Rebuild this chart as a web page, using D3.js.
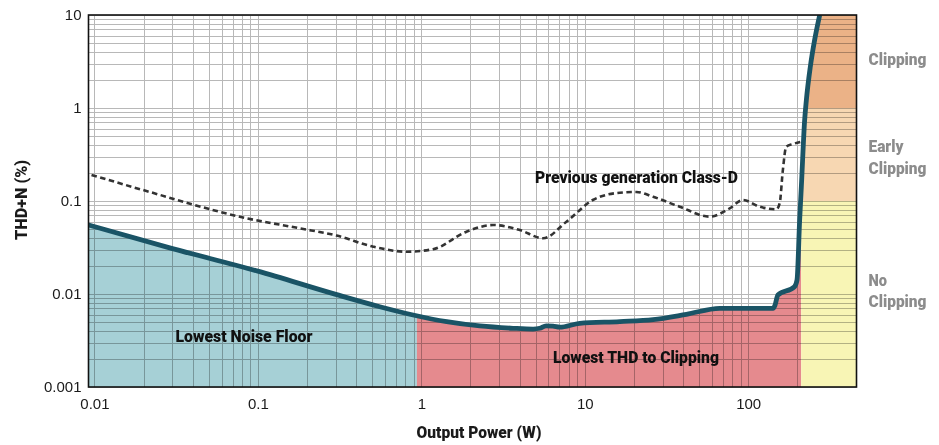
<!DOCTYPE html>
<html>
<head>
<meta charset="utf-8">
<script src="https://cdn.jsdelivr.net/npm/d3@7"></script>
<style>
	body { margin: 0; background: #fff; }
	svg { display: block; }
	.tick text { font-family: 'Liberation Sans', Arial, sans-serif; font-size: 15px; fill: #1a1a1a; }
	.bold { font-family: Roboto, 'DejaVu Sans Condensed', sans-serif; font-weight: 900; font-size: 17px; }
</style>
</head>
<body>
<svg id="chart" width="939" height="445"></svg>
<script>
// new amp: output power (W) vs THD+N (%)
const solidPower = [0.0092, 0.03, 0.1, 0.3, 0.557, 0.891, 1.43, 2.28, 3.64, 4.83, 5.3, 5.8, 6.4, 7.03, 9.31, 16.4, 26.2, 41.9, 67, 142, 146, 152, 192, 199, 206.5, 211.5, 221.6, 227, 240, 255, 274]
const solidThd = [0.0552, 0.0308, 0.0176, 0.0099, 0.0073, 0.00595, 0.00504, 0.00453, 0.00428, 0.0042, 0.00428, 0.00455, 0.00452, 0.0044, 0.00484, 0.00505, 0.0053, 0.00605, 0.00702, 0.00702, 0.0076, 0.00976, 0.01198, 0.01415, 0.0625, 0.1425, 0.743, 1.22, 2.78, 5.38, 10]

// previous generation Class-D (dashed)
const prevPower = [0.0096, 0.0199, 0.0853, 0.181, 0.303, 0.507, 0.812, 1.18, 1.89, 2.75, 4.0, 5.56, 7.73, 11.2, 16.4, 20.7, 26.2, 38.1, 58.2, 77.1, 93, 117.5, 149, 156, 163, 171, 188, 211]
const prevThd = [0.1906, 0.131, 0.0652, 0.0508, 0.0425, 0.0323, 0.0285, 0.0303, 0.0468, 0.0552, 0.0488, 0.0397, 0.0599, 0.1025, 0.1228, 0.125, 0.111, 0.0868, 0.0678, 0.0835, 0.1025, 0.0868, 0.0815, 0.0951, 0.215, 0.384, 0.41, 0.434]

const xTicks = [0.01, 0.1, 1, 10, 100]
const xTickLabels = ['0.01', '0.1', '1', '10', '100']
const yTicks = [0.001, 0.01, 0.1, 1, 10]
const yTickLabels = ['0.001', '0.01', '0.1', '1', '10']

// zone edges in watts and the clipping bands in THD %
const noiseFloorEnd = 0.94
const clipStart = 211
const clipBands = [
	{from: 0.001, to: 0.1, color: '#f8f5b5', label: ['No', 'Clipping']},
	{from: 0.1, to: 1, color: '#f7d7b2', label: ['Early', 'Clipping']},
	{from: 1, to: 10, color: '#ebb287', label: ['Clipping']},
]

const plot = {left: 88.5, right: 856.5, top: 15, bottom: 387}
const svgEl = d3.select('#chart')

const x = d3.scaleLog().domain([0.0092, 460]).range([plot.left, plot.right])
const y = d3.scaleLog().domain([0.001, 10]).range([plot.bottom, plot.top])

const solid = solidPower.map((p, i) => ({p, t: solidThd[i]}))
const prev = prevPower.map((p, i) => ({p, t: prevThd[i]}))

const line = d3
	.line()
	.x(d => x(d.p))
	.y(d => y(d.t))
	.curve(d3.curveMonotoneX)

// condensed bold look: squeeze the glyphs to the width seen in the picture
const textWidths = {
	'Previous generation Class-D': 203,
	'Lowest Noise Floor': 137,
	'Lowest THD to Clipping': 166,
	'Output Power (W)': 125,
	'THD+N (%)': 80,
	'Clipping': 58,
	'Early': 35,
	'No': 18.5,
}

function boldText(parent, str) {
	return parent
		.append('text')
		.attr('class', 'bold')
		.attr('textLength', textWidths[str])
		.attr('lengthAdjust', 'spacingAndGlyphs')
		.text(str)
}

const defs = svgEl.append('defs')
defs.append('clipPath')
	.attr('id', 'plot-clip')
	.append('rect')
	.attr('x', plot.left)
	.attr('y', plot.top)
	.attr('width', plot.right - plot.left)
	.attr('height', plot.bottom - plot.top)

// everything under / right of the new curve
defs.append('clipPath')
	.attr('id', 'under-clip')
	.append('path')
	.attr('d', line(solid) + `L${plot.right},${plot.top}L${plot.right},${plot.bottom}L${plot.left},${plot.bottom}Z`)

const fills = svgEl.append('g').attr('clip-path', 'url(#under-clip)')

fills.append('rect')
	.attr('x', plot.left)
	.attr('y', plot.top)
	.attr('width', x(noiseFloorEnd) - plot.left)
	.attr('height', plot.bottom - plot.top)
	.attr('fill', '#a6d0d6')

fills.append('rect')
	.attr('x', x(noiseFloorEnd))
	.attr('y', plot.top)
	.attr('width', x(clipStart) - x(noiseFloorEnd))
	.attr('height', plot.bottom - plot.top)
	.attr('fill', '#e58a8e')

fills.selectAll('rect.band')
	.data(clipBands)
	.join('rect')
	.attr('class', 'band')
	.attr('x', x(clipStart))
	.attr('y', d => y(d.to))
	.attr('width', plot.right - x(clipStart))
	.attr('height', d => y(d.from) - y(d.to))
	.attr('fill', d => d.color)

// grid, multiplied so it darkens the coloured zones
const grid = svgEl.append('g').style('mix-blend-mode', 'multiply').attr('stroke', '#b8b8b8').attr('stroke-width', 1)

grid.selectAll('line.v')
	.data(x.ticks().filter(v => v <= 200))
	.join('line')
	.attr('class', 'v')
	.attr('x1', d => Math.round(x(d)) + 0.5)
	.attr('x2', d => Math.round(x(d)) + 0.5)
	.attr('y1', plot.top)
	.attr('y2', plot.bottom)

grid.selectAll('line.h')
	.data(y.ticks())
	.join('line')
	.attr('class', 'h')
	.attr('x1', plot.left)
	.attr('x2', plot.right)
	.attr('y1', d => Math.round(y(d)) + 0.5)
	.attr('y2', d => Math.round(y(d)) + 0.5)

const curves = svgEl.append('g').attr('clip-path', 'url(#plot-clip)')

curves.append('path')
	.attr('d', line(prev))
	.attr('fill', 'none')
	.attr('stroke', '#333')
	.attr('stroke-width', 2.6)
	.attr('stroke-dasharray', '5.5,3.5')

curves.append('path')
	.attr('d', line(solid))
	.attr('fill', 'none')
	.attr('stroke', '#1a5466')
	.attr('stroke-width', 4.8)
	.attr('stroke-linejoin', 'round')

svgEl.append('rect')
	.attr('x', plot.left)
	.attr('y', plot.top)
	.attr('width', plot.right - plot.left)
	.attr('height', plot.bottom - plot.top)
	.attr('fill', 'none')
	.attr('stroke', '#111')
	.attr('stroke-width', 1.6)

// axes: labels only
const yAxis = svgEl.append('g')
	.attr('transform', `translate(${plot.left},0)`)
	.call(d3.axisLeft(y).tickValues(yTicks).tickFormat((d, i) => yTickLabels[i]).tickSize(0).tickPadding(7))
yAxis.select('.domain').remove()

const xAxis = svgEl.append('g')
	.attr('transform', `translate(0,${plot.bottom})`)
	.call(d3.axisBottom(x).tickValues(xTicks).tickFormat((d, i) => xTickLabels[i]).tickSize(0).tickPadding(11))
xAxis.select('.domain').remove()

boldText(svgEl, 'Output Power (W)')
	.attr('x', 416.5)
	.attr('y', 438)
	.attr('fill', '#1a1a1a')

boldText(svgEl, 'THD+N (%)')
	.attr('transform', 'translate(26.5,240) rotate(-90)')
	.attr('fill', '#1a1a1a')

// zone labels
const zoneLabels = svgEl.append('g').attr('fill', '#111')
boldText(zoneLabels, 'Lowest Noise Floor').attr('x', 175.5).attr('y', 342)
boldText(zoneLabels, 'Lowest THD to Clipping').attr('x', 553).attr('y', 363)
boldText(zoneLabels, 'Previous generation Class-D').attr('x', 535).attr('y', 183)

// right hand band labels, first-line baselines per band
const bandLabelBaseline = [285.5, 152, 65]
const bandLabels = svgEl.append('g').attr('fill', '#8c8c8c')
clipBands.forEach((band, bi) => {
	band.label.forEach((str, li) => {
		boldText(bandLabels, str)
			.attr('x', 868.5)
			.attr('y', bandLabelBaseline[bi] + li * 21.8)
	})
})
</script>
</body>
</html>
